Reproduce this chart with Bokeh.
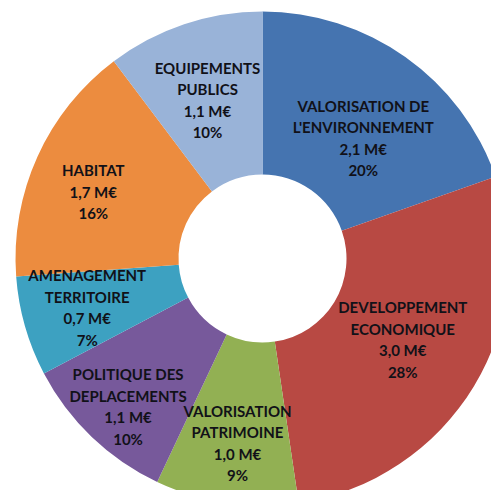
import math
from bokeh.plotting import figure
from bokeh.models import ColumnDataSource, Range1d
from bokeh.core.properties import value
from bokeh.embed import file_html
from bokeh.resources import INLINE

# ---- data ----
categories = [
    ["VALORISATION DE", "L'ENVIRONNEMENT"],
    ["DEVELOPPEMENT", "ECONOMIQUE"],
    ["VALORISATION", "PATRIMOINE"],
    ["POLITIQUE DES", "DEPLACEMENTS"],
    ["AMENAGEMENT", "TERRITOIRE"],
    ["HABITAT"],
    ["EQUIPEMENTS", "PUBLICS"],
]
amounts = [2.1, 3.0, 1.0, 1.1, 0.7, 1.7, 1.1]
amount_labels = ["2,1 M€", "3,0 M€", "1,0 M€", "1,1 M€", "0,7 M€", "1,7 M€", "1,1 M€"]
percent_labels = ["20%", "28%", "9%", "10%", "7%", "16%", "10%"]
colors = ["#4574B0", "#B84943", "#92B053", "#77599B", "#3DA1C1", "#EC8C3F", "#99B3D8"]

# ---- layout constants (pixels) ----
W, H = 491, 490
CX, CY = 262, H - 258
R_OUT, R_IN = 247, 84
label_radius = [157, 162, 186, 200, 182, 182, 168]
label_angle_shift = [4.6, -1.1, -0.7, -1.5, 0.4, -2.8, -0.6]
line_step = 21.5

total = sum(amounts)
starts, ends, mids = [], [], []
c = 0.0
for a in amounts:
    c0 = c
    c += a / total
    starts.append(math.pi / 2 - 2 * math.pi * c0)
    ends.append(math.pi / 2 - 2 * math.pi * c)
    mids.append((c0 + c) / 2 * 360)

p = figure(width=W, height=H, output_backend="svg", toolbar_location=None,
           x_range=Range1d(0, W), y_range=Range1d(0, H),
           min_border=0, outline_line_color=None)
p.axis.visible = False
p.grid.visible = False
p.background_fill_color = "white"
p.border_fill_color = "white"

wsrc = ColumnDataSource(dict(start=starts, end=ends, color=colors))
p.annular_wedge(x=CX, y=CY, inner_radius=R_IN, outer_radius=R_OUT,
                start_angle="start", end_angle="end", direction="clock",
                fill_color="color", line_color=None, source=wsrc)

xs, ys, yoff, txt = [], [], [], []
for i in range(len(amounts)):
    ang = math.radians(mids[i] + label_angle_shift[i])
    lx = CX + label_radius[i] * math.sin(ang)
    ly = CY + label_radius[i] * math.cos(ang)
    lines = categories[i] + [amount_labels[i], percent_labels[i]]
    n = len(lines)
    for j, t in enumerate(lines):
        xs.append(lx)
        ys.append(ly)
        yoff.append((j - (n - 1) / 2) * line_step)
        txt.append(t)

tsrc = ColumnDataSource(dict(x=xs, y=ys, yo=yoff, t=txt))
p.text(x="x", y="y", y_offset="yo", text="t", source=tsrc,
       text_font=value("Lato"), text_font_style="bold", text_font_size="15px",
       text_color="#111118", text_align="center", text_baseline="middle")

open("out.html", "w").write(file_html(p, INLINE))
